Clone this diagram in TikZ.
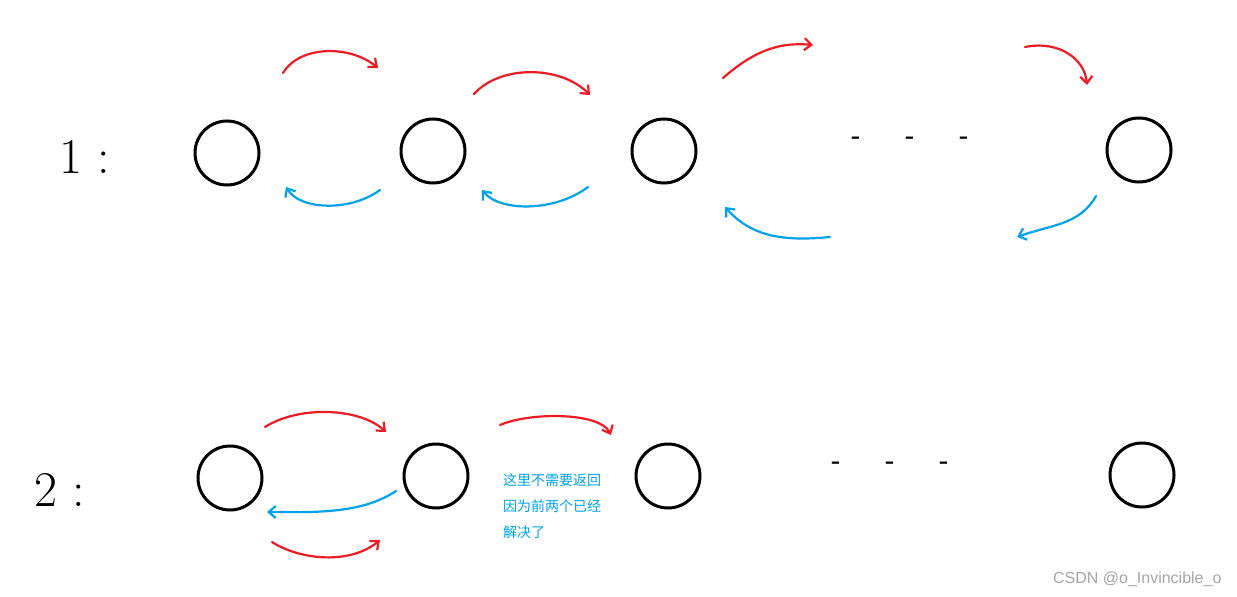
\documentclass[tikz,border=0pt]{standalone}
\usepackage{fontspec}
\newfontfamily\cjk{Noto Sans CJK SC}
\usetikzlibrary{arrows.meta}
\definecolor{pred}{RGB}{237,28,36}
\definecolor{pblue}{RGB}{0,162,232}
\tikzset{
  ball/.style={circle,draw,line width=3pt,minimum size=64pt,inner sep=0pt},
  goarrow/.style={pred,line width=2.2pt,line cap=round,-{Straight Barb[length=7pt,width=12pt]}},
  backarrow/.style={pblue,line width=2.2pt,line cap=round,-{Straight Barb[length=7pt,width=12pt]}},
  rowlabel/.style={font=\fontsize{50}{50}\selectfont,anchor=center},
  dotmark/.style={font=\fontsize{24}{24}\selectfont\bfseries}
}
\begin{document}
\begin{tikzpicture}[x=1pt,y=-1pt]
\useasboundingbox (0,0) rectangle (1237,597);

% row 1
\node[rowlabel] (lab1) at (85,157) {1 :};
\node[ball] (a1) at (227,153) {};
\node[ball] (b1) at (433,151) {};
\node[ball] (c1) at (664,151) {};
\node[ball] (d1) at (1139,150) {};
\node[dotmark] (dots1) at (910,140) {-\hspace{45pt}-\hspace{45pt}-};

% row 1 arrows
\coordinate (r1s) at (283,73); \coordinate (r1e) at (378,68);
\coordinate (r2s) at (474,94); \coordinate (r2e) at (590,95);
\coordinate (r3s) at (723,78); \coordinate (r3e) at (813,45);
\coordinate (r4s) at (1025,47); \coordinate (r4e) at (1087,85);
\draw[goarrow] (r1s) .. controls (300,45) and (350,45) .. (r1e);
\draw[goarrow] (r2s) .. controls (500,65) and (560,65) .. (r2e);
\draw[goarrow] (r3s) .. controls (755,50) and (780,42) .. (r3e);
\draw[goarrow] (r4s) .. controls (1060,40) and (1085,60) .. (r4e);
\coordinate (u1s) at (380,190); \coordinate (u1e) at (286,187);
\coordinate (u2s) at (588,187); \coordinate (u2e) at (482,190);
\coordinate (u3s) at (830,237); \coordinate (u3e) at (725,207);
\coordinate (u4s) at (1096,196); \coordinate (u4e) at (1017,237);
\draw[backarrow] (u1s) .. controls (350,212) and (300,210) .. (u1e);
\draw[backarrow] (u2s) .. controls (555,212) and (500,212) .. (u2e);
\draw[backarrow] (u3s) .. controls (780,242) and (750,235) .. (u3e);
\draw[backarrow] (u4s) .. controls (1080,225) and (1050,225) .. (u4e);

% row 2
\node[rowlabel] (lab2) at (60,490) {2 :};
\node[ball] (a2) at (230,478) {};
\node[ball] (b2) at (436,476) {};
\node[ball] (c2) at (668,476) {};
\node[ball] (d2) at (1142,475) {};
\node[dotmark] (dots2) at (890,465) {-\hspace{45pt}-\hspace{45pt}-};

% row 2 arrows
\coordinate (s1s) at (265,427); \coordinate (s1e) at (386,432);
\coordinate (s2s) at (500,425); \coordinate (s2e) at (611,435);
\coordinate (s3s) at (272,542); \coordinate (s3e) at (380,540);
\coordinate (v1s) at (396,491); \coordinate (v1e) at (267,512);
\draw[goarrow] (s1s) .. controls (300,405) and (360,408) .. (s1e);
\draw[goarrow] (s2s) .. controls (530,412) and (600,412) .. (s2e);
\draw[goarrow] (s3s) .. controls (300,560) and (350,565) .. (s3e);
\draw[backarrow] (v1s) .. controls (360,515) and (310,512) .. (v1e);

\node[pblue,font=\cjk\fontsize{14}{26}\selectfont,align=left,anchor=north west,inner sep=0pt] (note) at (503,473) {这里不需要返回\\因为前两个已经\\解决了};
\node[gray!70,font=\fontspec{Liberation Sans}\fontsize{16}{18}\selectfont,anchor=south east] (mark) at (1225,590) {CSDN @o\_Invincible\_o};
\end{tikzpicture}
\end{document}
